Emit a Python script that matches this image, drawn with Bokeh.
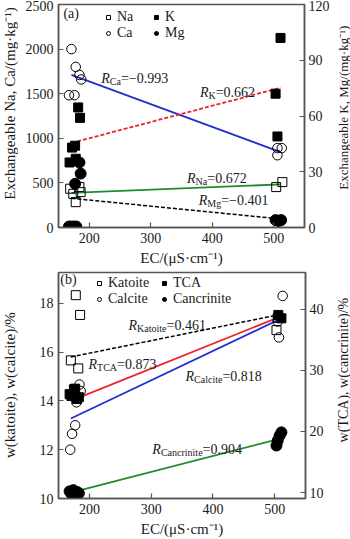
import math
from bokeh.plotting import figure
from bokeh.models import (Range1d, LinearAxis, Label, Legend, LegendItem,
                          FixedTicker)
from bokeh.layouts import column, row
from bokeh.embed import file_html
from bokeh.resources import INLINE

# ---------------- data: panel (a) ----------------
na_ec = [169, 174, 178, 184, 186, 504, 514]
na_val = [435, 378, 284, 453, 397, 453, 509]
ca_ec = [171, 178, 184, 187, 167, 176, 506, 506, 513]
ca_val = [2000, 1800, 1710, 1660, 1483, 1483, 890, 810, 890]
k_ec = [182, 185, 172, 177, 168, 178, 511, 503, 506]
k_val = [64.6, 59, 43, 44, 35, 37, 102, 72, 49]
mg_ec = [184, 186, 177, 167, 171, 175, 179, 503, 508, 512]
mg_val = [35, 29, 23.5, 0.5, 0.5, 0.5, 0.5, 4.0, 3.5, 4.0]

fit_a_ec = [171, 511]
fit_ca = [1710, 846]
fit_k = [45.5, 75.2]
fit_na = [388, 483]
fit_mg = [15.7, 4.6]

# ---------------- data: panel (b) ----------------
kat_ec = [178, 185, 170, 182, 503, 505]
kat_val = [18.33, 17.52, 15.66, 15.33, 16.9, 17.4]
cal_ec = [169, 172, 177, 179, 184, 186, 505, 507, 513]
cal_val = [12.0, 12.65, 13.0, 13.94, 14.67, 14.4, 17.25, 16.6, 18.3]
tca_ec = [168, 171, 175, 177, 180, 183, 506, 511]
tca_val = [26.1, 25.8, 26.9, 27.0, 25.3, 25.6, 39.06, 38.5]
can_ec = [168, 171, 174, 177, 180, 183, 503, 505, 508, 511]
can_val = [10.2, 9.8, 10.4, 9.9, 10.1, 9.9, 17.7, 18.5, 19.3, 19.85]

fit_b_ec = [170, 511]
fit_kat = [15.8, 17.55]
fit_tca = [25.0, 38.86]
fit_cal = [13.28, 17.38]
fit_can = [10.0, 18.87]

x_ticks = [200, 300, 400, 500]
a_left_ticks = [0, 500, 1000, 1500, 2000, 2500]
a_right_ticks = [0, 30, 60, 90, 120]
b_left_ticks = [10, 12, 14, 16, 18]
b_right_ticks = [10, 20, 30, 40]

FONT = "Liberation Serif"
TXT = "#1a1a1a"
FRAME = "#555555"

# approximate Times glyph widths (em) for subscript placement
CW = {'C': .667, 'a': .444, 'K': .722, 'N': .722, 'M': .889, 'g': .5, 't': .278,
      'o': .5, 'i': .278, 'e': .444, 'T': .611, 'A': .722, 'l': .278, 'c': .444,
      'n': .5, 'r': .333}


def text_w(s, size):
    return sum(CW.get(ch, .5) for ch in s) * size


def style(p):
    p.toolbar_location = None
    p.xgrid.visible = False
    p.ygrid.visible = False
    p.outline_line_color = FRAME
    p.outline_line_width = 1.5
    p.background_fill_color = "white"
    p.border_fill_color = "white"


def style_axis(ax, label_standoff):
    ax.axis_line_color = FRAME
    ax.axis_line_width = 1.5
    ax.major_tick_line_color = FRAME
    ax.major_tick_line_width = 1.2
    ax.major_tick_in = 5
    ax.major_tick_out = 0
    ax.minor_tick_line_color = None
    ax.major_label_text_font = FONT
    ax.major_label_text_font_size = "14px"
    ax.major_label_text_color = TXT
    ax.major_label_standoff = 5
    ax.axis_label_text_font = FONT
    ax.axis_label_text_font_size = "15px"
    ax.axis_label_text_font_style = "normal"
    ax.axis_label_text_color = TXT
    ax.axis_label_standoff = label_standoff


def rlabel(p, x, y, sub, val):
    kw = dict(text_font=FONT, text_color=TXT, text_baseline="alphabetic")
    p.add_layout(Label(x=x, y=y, text="R", text_font_style="italic",
                       text_font_size="14px", **kw))
    wr = 0.611 * 14
    p.add_layout(Label(x=x, y=y, x_offset=wr, y_offset=-3, text=sub,
                       text_font_size="10px", **kw))
    p.add_layout(Label(x=x, y=y, x_offset=wr + text_w(sub, 10), text="=" + val,
                       text_font_size="14px", **kw))


def right_axis(p, name, ticks):
    ax = LinearAxis(y_range_name=name, ticker=FixedTicker(ticks=ticks))
    style_axis(ax, 12)
    ax.major_label_standoff = 4
    p.add_layout(ax, "right")


def title_strip(height, label, xpos, ypos, size):
    # narrow strip holding a vertical axis title, reading bottom-to-top
    s = figure(width=18, height=height, x_range=Range1d(0, 18),
               y_range=Range1d(0, height), output_backend="svg",
               toolbar_location=None, x_axis_type=None, y_axis_type=None,
               min_border=0)
    s.outline_line_color = None
    s.xgrid.visible = False
    s.ygrid.visible = False
    s.add_layout(Label(x=xpos, y=ypos, text=label, angle=math.pi / 2,
                       text_align="center", text_baseline="middle",
                       text_font=FONT, text_font_size=size, text_color=TXT))
    return s


def legend_col(p, items, loc):
    lg = Legend(items=items, location=loc, orientation="vertical",
                label_text_font=FONT, label_text_font_size="14px",
                label_text_color=TXT, glyph_width=10, glyph_height=14,
                label_height=14, label_standoff=4, spacing=0, padding=0,
                margin=0, border_line_alpha=0, background_fill_alpha=0)
    p.add_layout(lg)
    return lg


# ================= panel (a) =================
pa = figure(width=314, height=268, x_range=Range1d(150, 550),
            y_range=Range1d(0, 2500), output_backend="svg",
            toolbar_location=None, min_border_left=40, min_border_right=27,
            min_border_top=4, min_border_bottom=41)
style(pa)
pa.extra_y_ranges = {"r": Range1d(0, 120)}
pa.xaxis.ticker = FixedTicker(ticks=x_ticks)
pa.yaxis.ticker = FixedTicker(ticks=a_left_ticks)
style_axis(pa.xaxis[0], 4)
style_axis(pa.yaxis[0], 7)
pa.xaxis.axis_label = "EC/(μS·cm⁻¹)"
right_axis(pa, "r", a_right_ticks)

pa.line(fit_a_ec, fit_ca, line_color="#1f2fd0", line_width=1.8)
pa.line(fit_a_ec, fit_k, y_range_name="r", line_color="#e8242a", line_width=1.8,
        line_dash="4 2")
pa.line(fit_a_ec, fit_na, line_color="#1e8c28", line_width=1.8)
pa.line(fit_a_ec, fit_mg, y_range_name="r", line_color="black", line_width=1.5,
        line_dash="4 2")

r_na = pa.scatter(na_ec, na_val, marker="square", size=9, line_color="black",
                  fill_alpha=0, line_width=1)
r_ca = pa.scatter(ca_ec, ca_val, marker="circle", size=9.5, line_color="black",
                  fill_alpha=0, line_width=1)
r_k = pa.scatter(k_ec, k_val, y_range_name="r", marker="square", size=9,
                 line_color="black", fill_color="black")
r_mg = pa.scatter(mg_ec, mg_val, y_range_name="r", marker="circle", size=11,
                  line_color="black", fill_color="black")

legend_col(pa, [LegendItem(label="Na", renderers=[r_na]),
                LegendItem(label="Ca", renderers=[r_ca])], (45, 186))
legend_col(pa, [LegendItem(label="K", renderers=[r_k]),
                LegendItem(label="Mg", renderers=[r_mg])], (93, 186))

pa.add_layout(Label(x=158, y=2320, text="(a)", text_font=FONT,
                    text_font_size="14px", text_color=TXT))
rlabel(pa, 219.6, 1670, "Ca", "−0.993")
rlabel(pa, 380, 1510, "K", "0.662")
rlabel(pa, 359, 549, "Na", "0.672")
rlabel(pa, 378, 300, "Mg", "−0.401")

la = title_strip(268, "Exchangeable Na, Ca/(mg·kg⁻¹)", 9, 149, "15px")
ra = title_strip(268, "Exchangeable K, Mg/(mg·kg⁻¹)", 11, 144, "13px")

# ================= panel (b) =================
pb = figure(width=314, height=271, x_range=Range1d(150, 550),
            y_range=Range1d(10, 19.26), output_backend="svg",
            toolbar_location=None, min_border_left=40, min_border_right=27,
            min_border_top=4, min_border_bottom=39)
style(pb)
pb.extra_y_ranges = {"r": Range1d(9.03, 46.0)}
pb.xaxis.ticker = FixedTicker(ticks=x_ticks)
pb.yaxis.ticker = FixedTicker(ticks=b_left_ticks)
style_axis(pb.xaxis[0], 4)
style_axis(pb.yaxis[0], 7)
pb.xaxis.axis_label = "EC/(μS·cm⁻¹)"
right_axis(pb, "r", b_right_ticks)

pb.line(fit_b_ec, fit_kat, line_color="black", line_width=1.5, line_dash="4 2")
pb.line(fit_b_ec, fit_tca, y_range_name="r", line_color="#e8242a", line_width=1.8)
pb.line(fit_b_ec, fit_cal, line_color="#1f2fd0", line_width=1.8)
pb.line(fit_b_ec, fit_can, y_range_name="r", line_color="#1e8c28", line_width=1.8)

r_kat = pb.scatter(kat_ec, kat_val, marker="square", size=9, line_color="black",
                   fill_alpha=0, line_width=1)
r_cal = pb.scatter(cal_ec, cal_val, marker="circle", size=9.5, line_color="black",
                   fill_alpha=0, line_width=1)
r_tca = pb.scatter(tca_ec, tca_val, y_range_name="r", marker="square", size=9,
                   line_color="black", fill_color="black")
r_can = pb.scatter(can_ec, can_val, y_range_name="r", marker="circle", size=11,
                   line_color="black", fill_color="black")

legend_col(pb, [LegendItem(label="Katoite", renderers=[r_kat]),
                LegendItem(label="Calcite", renderers=[r_cal])], (36, 191))
legend_col(pb, [LegendItem(label="TCA", renderers=[r_tca]),
                LegendItem(label="Cancrinite", renderers=[r_can])], (101, 191))

pb.add_layout(Label(x=153, y=18.65, text="(b)", text_font=FONT,
                    text_font_size="14px", text_color=TXT))
rlabel(pb, 263.4, 17.1, "Katoite", "0.461")
rlabel(pb, 198.6, 15.48, "TCA", "0.873")
rlabel(pb, 355.7, 15.0, "Calcite", "0.818")
rlabel(pb, 302, 12.0, "Cancrinite", "0.904")

lb = title_strip(271, "w(katoite), w(calcite)/%", 9, 136, "15px")
rb = title_strip(271, "w(TCA), w(cancrinite)/%", 11, 154, "14px")

layout = column(row(la, pa, ra, spacing=0), row(lb, pb, rb, spacing=0),
                spacing=0)
open("out.html", "w").write(file_html(layout, INLINE))
